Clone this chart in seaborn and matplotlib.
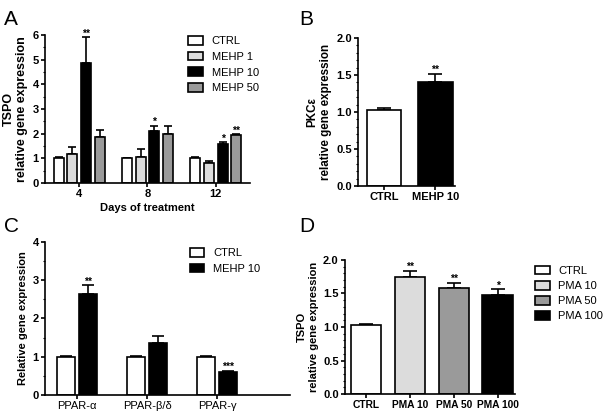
import pandas as pd
import numpy as np
import matplotlib
matplotlib.use("Agg")
import matplotlib.pyplot as plt
import seaborn as sns
from matplotlib.ticker import MultipleLocator

# panel A - TSPO over days
days = ["4", "8", "12"]
groups_a = ["CTRL", "MEHP 1", "MEHP 10", "MEHP 50"]
ctrl_a = [1.0, 1.0, 1.0]
mehp1_a = [1.17, 1.07, 0.83]
mehp10_a = [4.85, 2.12, 1.57]
mehp50_a = [1.87, 1.97, 1.93]
err_ctrl_a = [0.05, 0.02, 0.05]
err_mehp1_a = [0.27, 0.32, 0.06]
err_mehp10_a = [1.05, 0.2, 0.08]
err_mehp50_a = [0.27, 0.35, 0.05]
stars_a = {("MEHP 10", "4"): "**", ("MEHP 10", "8"): "*",
           ("MEHP 10", "12"): "*", ("MEHP 50", "12"): "**"}

# panel B - PKCe
groups_b = ["CTRL", "MEHP 10"]
vals_b = [1.03, 1.40]
err_b = [0.03, 0.12]
stars_b = ["", "**"]

# panel C - PPARs
genes = ["PPAR-α", "PPAR-β/δ", "PPAR-γ"]
groups_c = ["CTRL", "MEHP 10"]
ctrl_c = [1.0, 1.0, 1.0]
mehp10_c = [2.63, 1.35, 0.60]
err_ctrl_c = [0.03, 0.03, 0.02]
err_mehp10_c = [0.25, 0.18, 0.04]
stars_c = {("MEHP 10", "PPAR-α"): "**", ("MEHP 10", "PPAR-γ"): "***"}

# panel D - TSPO with PMA
groups_d = ["CTRL", "PMA 10", "PMA 50", "PMA 100"]
vals_d = [1.03, 1.74, 1.58, 1.48]
err_d = [0.02, 0.10, 0.08, 0.08]
stars_d = ["", "**", "**", "*"]

plt.rcParams['font.family'] = ['Liberation Sans', 'DejaVu Sans']
plt.rcParams['font.size'] = 8

white = "#ffffff"
light = "#dcdcdc"
mid = "#9a9a9a"
black = "#000000"


def style_ax(ax):
    sns.despine(ax=ax)
    ax.spines["left"].set_linewidth(1.2)
    ax.spines["bottom"].set_linewidth(1.2)
    ax.tick_params(axis="both", which="major", length=3, width=1.2, pad=1.5)
    ax.tick_params(axis="y", which="minor", length=1.8, width=0.8)
    ax.tick_params(axis="x", which="both", length=3)
    for lab in ax.get_yticklabels():
        lab.set_fontweight("bold")


def add_errors(ax, conts, errs, stars, capsize):
    # one container per hue level, bars in category order
    for cont, e, st in zip(conts, errs, stars):
        for bar, ee, s in zip(cont.patches, e, st):
            x = bar.get_x() + bar.get_width() / 2
            y = bar.get_height()
            ax.errorbar(x, y, yerr=[[0], [ee]], fmt="none", ecolor="black",
                        elinewidth=1.2, capsize=capsize, capthick=1.2, zorder=1)
            if s:
                ax.text(x, y + ee - ax.get_ylim()[1] * 0.01, s, ha="center",
                        va="bottom", fontsize=7.5, fontweight="bold")


fig = plt.figure(figsize=(6.03, 4.15), dpi=100)

# ---------- A ----------
ax_a = fig.add_axes([0.0746, 0.559, 0.34, 0.3566])
df_a = pd.DataFrame({
    "day": days * 4,
    "group": np.repeat(groups_a, 3),
    "val": ctrl_a + mehp1_a + mehp10_a + mehp50_a,
})
sns.barplot(data=df_a, x="day", y="val", hue="group", hue_order=groups_a,
            order=days, palette=[white, light, black, mid], width=0.8, gap=0.28,
            edgecolor="black", linewidth=1.2, legend=False, ax=ax_a, zorder=2)
ax_a.set_ylim(0, 6)
conts_a = list(ax_a.containers)
errs_a = [err_ctrl_a, err_mehp1_a, err_mehp10_a, err_mehp50_a]
st_a = [[stars_a.get((g, d), "") for d in days] for g in groups_a]
add_errors(ax_a, conts_a, errs_a, st_a, 3)
ax_a.set_xlim(-0.5, 2.5)
ax_a.yaxis.set_major_locator(MultipleLocator(1))
ax_a.yaxis.set_minor_locator(MultipleLocator(0.5))
ax_a.set_ylabel("TSPO\nrelative gene expression", fontweight="bold",
                fontsize=9, labelpad=3)
ax_a.set_xlabel("Days of treatment", fontweight="bold", labelpad=3)
style_ax(ax_a)
for lab in ax_a.get_xticklabels():
    lab.set_fontweight("bold")
ax_a.legend(conts_a, groups_a, frameon=False, loc="upper left",
            bbox_to_anchor=(0.65, 1.06), handlelength=1.3, handleheight=0.8,
            labelspacing=0.5, handletextpad=0.8, fontsize=8)

# ---------- B ----------
ax_b = fig.add_axes([0.5937, 0.5518, 0.161, 0.3566])
df_b = pd.DataFrame({"group": groups_b, "val": vals_b})
sns.barplot(data=df_b, x="group", y="val", hue="group", order=groups_b,
            palette=[white, black], width=0.67, edgecolor="black",
            linewidth=1.2, legend=False, ax=ax_b, zorder=2)
ax_b.set_ylim(0, 2.0)
conts_b = list(ax_b.containers)
add_errors(ax_b, conts_b, [[e] for e in err_b], [[s] for s in stars_b], 5)
ax_b.set_xlim(-0.5, 1.38)
ax_b.yaxis.set_major_locator(MultipleLocator(0.5))
ax_b.yaxis.set_minor_locator(MultipleLocator(0.1))
ax_b.set_ylabel("PKCε\nrelative gene expression", fontweight="bold",
                fontsize=8.4, labelpad=3)
ax_b.set_xlabel("")
style_ax(ax_b)
for lab in ax_b.get_xticklabels():
    lab.set_fontweight("bold")

# ---------- C ----------
ax_c = fig.add_axes([0.0746, 0.0482, 0.4063, 0.3687])
df_c = pd.DataFrame({
    "gene": genes * 2,
    "group": np.repeat(groups_c, 3),
    "val": ctrl_c + mehp10_c,
})
sns.barplot(data=df_c, x="gene", y="val", hue="group", hue_order=groups_c,
            order=genes, palette=[white, black], width=0.64, gap=0.19,
            edgecolor="black", linewidth=1.2, legend=False, ax=ax_c, zorder=2)
ax_c.set_ylim(0, 4)
conts_c = list(ax_c.containers)
errs_c = [err_ctrl_c, err_mehp10_c]
st_c = [[stars_c.get((g, k), "") for k in genes] for g in groups_c]
add_errors(ax_c, conts_c, errs_c, st_c, 4)
ax_c.set_xlim(-0.46, 3.04)
ax_c.yaxis.set_major_locator(MultipleLocator(1))
ax_c.yaxis.set_minor_locator(MultipleLocator(0.5))
ax_c.set_ylabel("Relative gene expression", fontweight="bold", labelpad=3)
ax_c.set_xlabel("")
style_ax(ax_c)
ax_c.legend(conts_c, groups_c, frameon=False, loc="upper left",
            bbox_to_anchor=(0.55, 1.025), handlelength=1.3, handleheight=0.8,
            labelspacing=0.5, handletextpad=0.8, fontsize=8)

# ---------- D ----------
ax_d = fig.add_axes([0.572, 0.0506, 0.282, 0.3229])
df_d = pd.DataFrame({"group": groups_d, "val": vals_d})
sns.barplot(data=df_d, x="group", y="val", hue="group", order=groups_d,
            palette=[white, light, mid, black], width=0.7, edgecolor="black",
            linewidth=1.2, legend=False, ax=ax_d, zorder=2)
ax_d.set_ylim(0, 2.0)
conts_d = list(ax_d.containers)
add_errors(ax_d, conts_d, [[e] for e in err_d], [[s] for s in stars_d], 5)
ax_d.set_xlim(-0.48, 3.39)
ax_d.yaxis.set_major_locator(MultipleLocator(0.5))
ax_d.yaxis.set_minor_locator(MultipleLocator(0.1))
ax_d.set_ylabel("TSPO\nrelative gene expression", fontweight="bold", labelpad=3)
ax_d.set_xlabel("")
style_ax(ax_d)
for lab in ax_d.get_xticklabels():
    lab.set_fontweight("bold")
    lab.set_fontsize(7.4)
ax_d.legend(conts_d, groups_d, frameon=False, loc="upper left",
            bbox_to_anchor=(1.06, 1.03), handlelength=1.3, handleheight=0.8,
            labelspacing=0.45, handletextpad=0.8, fontsize=8)

# panel letters
fig.text(0.006, 0.94, "A", fontsize=15)
fig.text(0.497, 0.94, "B", fontsize=15)
fig.text(0.006, 0.44, "C", fontsize=15)
fig.text(0.497, 0.44, "D", fontsize=15)

fig.savefig("out.png", dpi=100)
